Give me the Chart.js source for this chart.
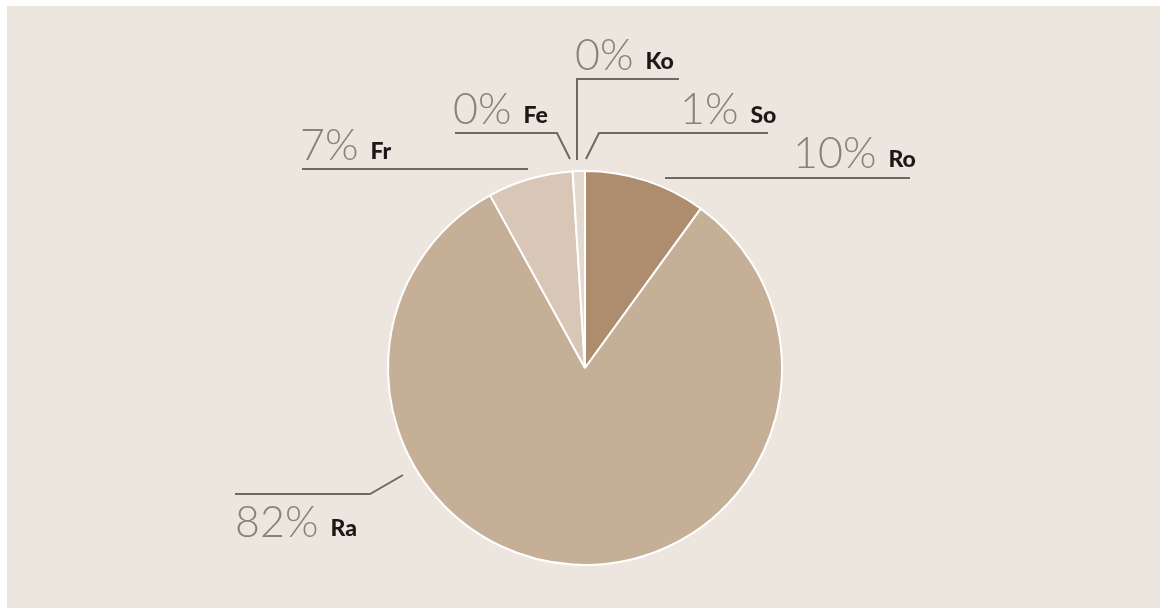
<!DOCTYPE html>
<html>
<head>
<meta charset="utf-8">
<script src="https://cdn.jsdelivr.net/npm/chart.js@4.4.0/dist/chart.umd.min.js"></script>
<style>
  html, body { margin: 0; padding: 0; background: #ffffff; }
  #wrap { position: relative; width: 1160px; height: 608px; }
</style>
</head>
<body>
<div id="wrap"><canvas id="c" width="1160" height="608"></canvas></div>
<script>
// ---- data ----
const categories = ['Ro', 'Ra', 'Fr', 'Fe', 'Ko', 'So'];
const shares = [10, 82, 7, 0, 0, 1];
const sliceColors = ['#ad8d6d', '#c5b097', '#d8c7b6', '#dccfc1', '#e0d4c7', '#e4d9cd'];

// ---- label layout (offsets from pie centre, px) ----
const labelLayout = {
  Ro: { text: [208, -200], leader: [[80, -190], [325, -190]] },
  Ra: { text: [-350, 169], leader: [[-182, 107], [-215, 126], [-350, 126]] },
  Fr: { text: [-285, -208], leader: [[-57, -199], [-283, -199]] },
  Fe: { text: [-132, -244], leader: [[-15, -209], [-28, -235], [-130, -235]] },
  Ko: { text: [-10, -298], leader: [[-8, -208], [-8, -289], [94, -289]] },
  So: { text: [95, -244], leader: [[1, -209], [14, -235], [183, -235]] }
};

const bgPlugin = {
  id: 'bg',
  beforeDraw(chart) {
    const ctx = chart.ctx;
    ctx.save();
    ctx.fillStyle = '#ffffff';
    ctx.fillRect(0, 0, chart.width, chart.height);
    ctx.fillStyle = '#ece6df';
    ctx.fillRect(7, 6, chart.width - 7, chart.height - 6);
    ctx.restore();
  }
};

const labelPlugin = {
  id: 'pieLabels',
  afterDatasetsDraw(chart) {
    const ctx = chart.ctx;
    const meta = chart.getDatasetMeta(0);
    const arc0 = meta.data[0];
    const cx = arc0.x, cy = arc0.y;
    const data = chart.data.datasets[0].data;
    const total = data.reduce((a, b) => a + b, 0);
    ctx.save();
    chart.data.labels.forEach((lab, i) => {
      const L = labelLayout[lab];
      if (!L) return;
      // leader
      ctx.beginPath();
      L.leader.forEach((p, k) => {
        const x = cx + p[0], y = cy + p[1];
        if (k === 0) ctx.moveTo(x, y); else ctx.lineTo(x, y);
      });
      ctx.strokeStyle = '#6e6964';
      ctx.lineWidth = 2;
      ctx.stroke();
      // text
      const pct = Math.round(data[i] / total * 100) + '%';
      const tx = cx + L.text[0], ty = cy + L.text[1];
      ctx.textBaseline = 'alphabetic';
      ctx.textAlign = 'left';
      ctx.font = '300 43px Lato, "DejaVu Sans", sans-serif';
      ctx.fillStyle = '#87827d';
      ctx.fillText(pct, tx, ty);
      const w = ctx.measureText(pct).width;
      ctx.font = '900 23px Lato, "DejaVu Sans", sans-serif';
      ctx.fillStyle = '#1b1917';
      ctx.fillText(lab, tx + w + 12, ty - 1);
    });
    ctx.restore();
  }
};

new Chart(document.getElementById('c'), {
  type: 'pie',
  data: {
    labels: categories,
    datasets: [{
      data: shares,
      backgroundColor: sliceColors,
      borderColor: '#ffffff',
      borderWidth: 2,
      radius: 197
    }]
  },
  options: {
    responsive: false,
    animation: false,
    layout: { padding: { left: 10, right: 0, top: 128, bottom: 0 } },
    plugins: {
      legend: { display: false },
      tooltip: { enabled: false }
    }
  },
  plugins: [bgPlugin, labelPlugin]
});
</script>
</body>
</html>
